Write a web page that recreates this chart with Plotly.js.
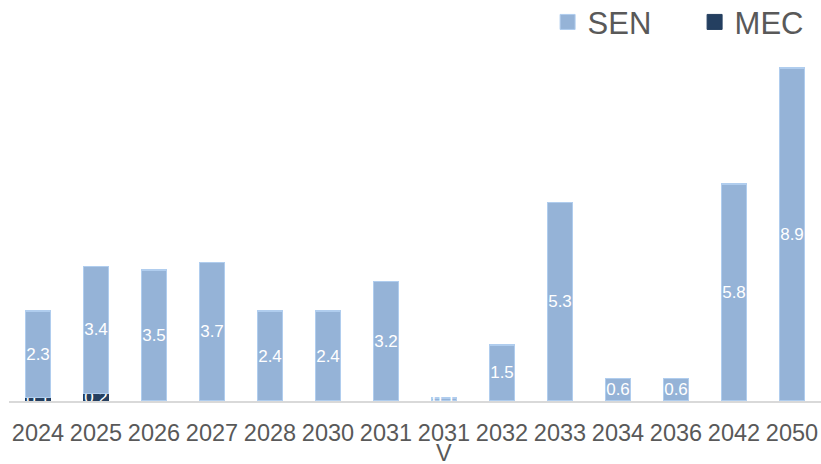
<!DOCTYPE html>
<html>
<head>
<meta charset="utf-8">
<script src="https://cdn.plot.ly/plotly-3.0.1.min.js"></script>
<style>
  html, body { margin: 0; padding: 0; background: #fff; }
  #chart { width: 821px; height: 464px; }
</style>
</head>
<body>
<div id="chart"></div>
<script>
const years = ['2024', '2025', '2026', '2027', '2028', '2030', '2031', '2031 V',
               '2032', '2033', '2034', '2036', '2042', '2050'];
const tickLabels = ['2024', '2025', '2026', '2027', '2028', '2030', '2031', '2031',
                    '2032', '2033', '2034', '2036', '2042', '2050'];
const mecValues = [0.1, 0.2, 0.0, 0.0, 0.0, 0.0, 0.0, 0.0, 0.0, 0.0, 0.0, 0.0, 0.0, 0.0];
const senValues = [2.3, 3.4, 3.5, 3.7, 2.4, 2.4, 3.2, 0.08, 1.5, 5.3, 0.6, 0.6, 5.8, 8.9];
const seriesNames = ['SEN', 'MEC'];
const seriesColors = ['#95b3d7', '#243f60'];

const labelFont = { family: 'Liberation Sans, Arial', size: 17, color: '#ffffff' };

// MEC 在下面, SEN 叠在上面
const mec = {
    name: 'MEC',
    type: 'bar',
    x: years,
    y: mecValues,
    marker: { color: seriesColors[1], line: { color: seriesColors[1], width: 1 } },
    text: mecValues.map(v => v.toFixed(1)),
    textposition: 'inside',
    insidetextanchor: 'middle',
    textangle: 0,
    constraintext: 'none',
    textfont: labelFont,
    showlegend: false
};

const sen = {
    name: 'SEN',
    type: 'bar',
    x: years,
    y: senValues,
    marker: { color: seriesColors[0], line: { color: '#b0cdee', width: 1.5 } },
    text: senValues.map(v => v.toFixed(1)),
    textposition: 'inside',
    insidetextanchor: 'middle',
    textangle: 0,
    constraintext: 'none',
    textfont: labelFont,
    showlegend: false
};

// 图例用的方块
const legendTraces = seriesNames.map((n, i) => ({
    name: n,
    type: 'scatter',
    mode: 'markers',
    x: [null],
    y: [null],
    marker: { symbol: 'square', size: 15, color: seriesColors[i],
              line: { color: i === 0 ? '#b0cdee' : seriesColors[i], width: 1 } },
    showlegend: true,
    hoverinfo: 'skip'
}));

const layout = {
    width: 821,
    height: 464,
    barmode: 'stack',
    bargap: 0.57,
    margin: { l: 9, r: 0, t: 50, b: 63 },
    paper_bgcolor: '#ffffff',
    plot_bgcolor: '#ffffff',
    font: { family: 'Liberation Sans, Arial', color: '#595959' },
    showlegend: true,
    legend: {
        orientation: 'h',
        traceorder: 'normal',
        xref: 'container', yref: 'container',
        x: 0.667, xanchor: 'left',
        y: 0.952, yanchor: 'middle',
        font: { size: 31, color: '#595959' },
        entrywidth: 102,
        itemwidth: 30
    },
    xaxis: {
        type: 'category',
        tickvals: years,
        ticktext: tickLabels,
        tickfont: { size: 23.5, color: '#595959' },
        showline: true,
        linecolor: '#d9d9d9',
        linewidth: 1.5,
        ticks: '',
        ticklabelstandoff: 10,
        showgrid: false
    },
    yaxis: {
        range: [0, 9.38],
        showticklabels: false,
        showgrid: false,
        zeroline: false,
        showline: false
    },
    // "2031 V" 的第二行
    annotations: [{
        x: '2031 V',
        xref: 'x',
        y: 0,
        yref: 'paper',
        yanchor: 'top',
        yshift: -38,
        borderpad: 0,
        text: 'V',
        showarrow: false,
        font: { size: 23.5, color: '#595959' }
    }]
};

Plotly.newPlot('chart', [mec, sen].concat(legendTraces), layout, { displayModeBar: false });
</script>
</body>
</html>
